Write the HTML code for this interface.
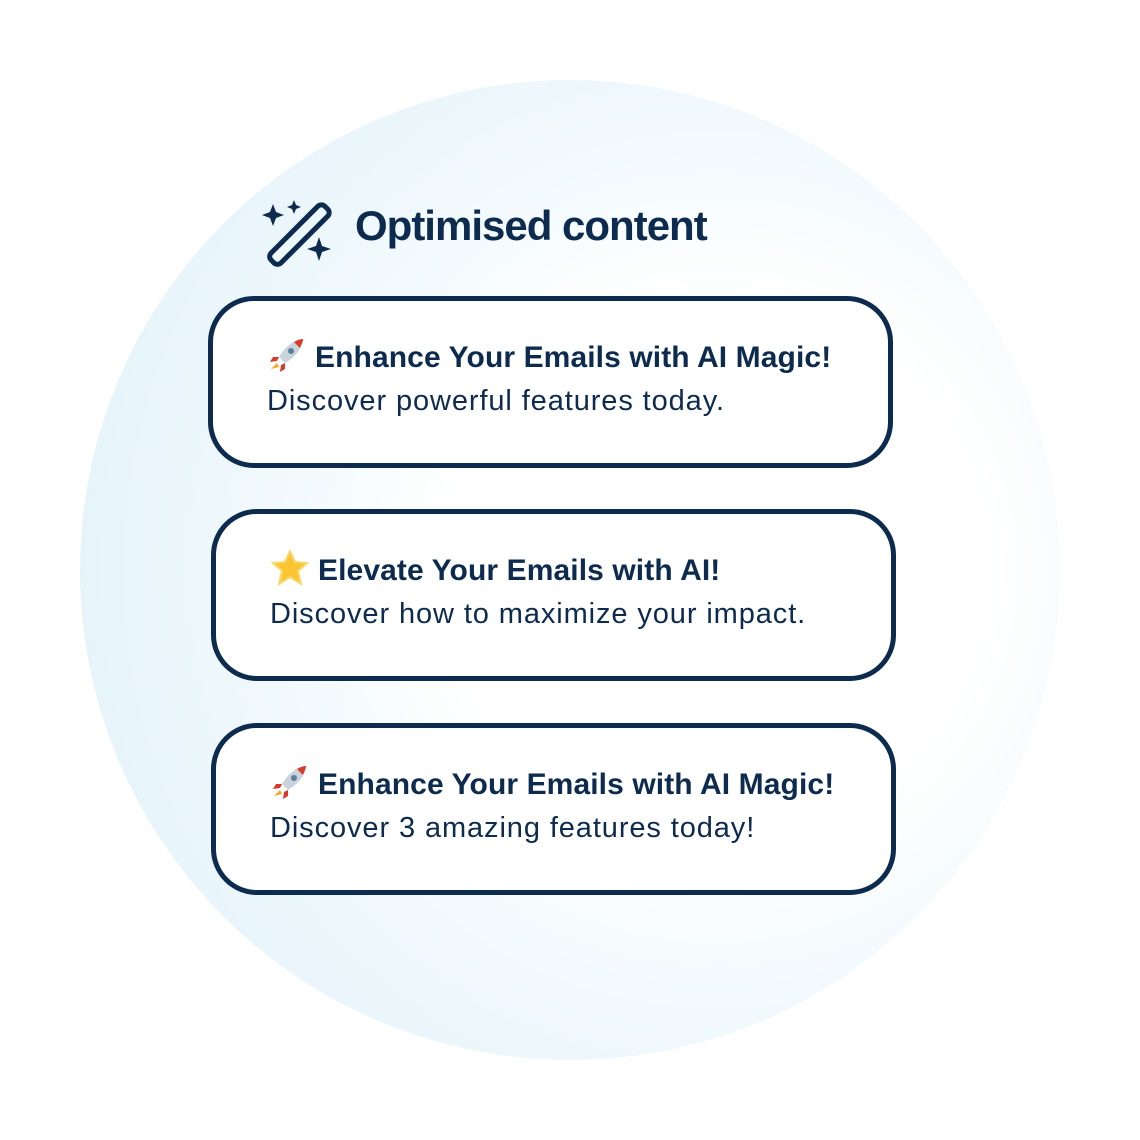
<!DOCTYPE html>
<html><head><meta charset="utf-8"><style>
html,body{margin:0;padding:0;background:#fff;}
body{width:1140px;height:1140px;position:relative;overflow:hidden;font-family:"Liberation Sans",sans-serif;color:#0d2b4e;}
.circle{position:absolute;left:80px;top:80px;width:980px;height:980px;border-radius:50%;
background:radial-gradient(circle at 65% 50%, #ffffff 0%, #ffffff 34%, #f3fafd 52%, #e6f4fa 80%, #e3f3f9 100%);}
.title{position:absolute;left:355px;top:202px;font-size:42px;font-weight:bold;letter-spacing:-1px;}
.card{position:absolute;width:675px;height:162px;border:5px solid #0d2b4e;border-radius:46px;background:#fff;}
.t{position:absolute;left:54px;top:36px;font-size:30px;font-weight:bold;letter-spacing:0.1px;white-space:nowrap;}
.s{position:absolute;left:54px;top:84px;font-size:29px;letter-spacing:0.9px;white-space:nowrap;}
.ic{display:inline-block;width:40px;height:36px;vertical-align:-6px;margin-right:8px;}
</style></head><body>
<div class="circle"></div>
<svg style="position:absolute;left:258px;top:198px" width="78" height="72" viewBox="0 0 78 72">
<g fill="#0d2b4e">
<path d="M15 6 L18 14 L26 17 L18 20 L15 28 L12 20 L4 17 L12 14Z"/>
<path d="M36 2 L38 7 L43 9 L38 11 L36 16 L34 11 L29 9 L34 7Z"/>
<path d="M61 39 L64 48 L73 51 L64 54 L61 63 L58 54 L49 51 L58 48Z"/>
</g>
<g fill="none" stroke="#0d2b4e" stroke-width="5" stroke-linejoin="round">
<rect x="25" y="0" width="14" height="76" rx="5" transform="rotate(45 40 38) translate(8 -2)"/>
</g>
</svg>
<div class="title">Optimised content</div>

<div class="card" style="left:208px;top:296px">
<div class="t"><svg class="ic" viewBox="0 0 40 36"><path d="M36 2 C26 3 18 10 12 20 L18 26 C28 20 35 12 36 2Z" fill="#c9d3dc"/><path d="M36 2 C32 2 29 4 27 5 L33 11 C34 8 36 5 36 2Z" fill="#d63a2a"/><circle cx="24" cy="14" r="3" fill="#5b7fa0"/><path d="M12 20 L6 20 L3 25 L10 24Z M18 26 L18 32 L13 35 L14 28Z" fill="#d63a2a"/><path d="M10 26 L4 32 L12 30Z" fill="#f5a623"/></svg>Enhance Your Emails with AI Magic!</div>
<div class="s">Discover powerful features today.</div>
</div>

<div class="card" style="left:211px;top:509px">
<div class="t"><svg class="ic" viewBox="0 0 40 36"><path d="M20 1 L25 12 L37 13 L28 21 L31 34 L20 27 L9 34 L12 21 L3 13 L15 12Z" fill="#fbc531" stroke="#f6d96b" stroke-width="2"/></svg>Elevate Your Emails with AI!</div>
<div class="s">Discover how to maximize your impact.</div>
</div>

<div class="card" style="left:211px;top:723px">
<div class="t"><svg class="ic" viewBox="0 0 40 36"><path d="M36 2 C26 3 18 10 12 20 L18 26 C28 20 35 12 36 2Z" fill="#c9d3dc"/><path d="M36 2 C32 2 29 4 27 5 L33 11 C34 8 36 5 36 2Z" fill="#d63a2a"/><circle cx="24" cy="14" r="3" fill="#5b7fa0"/><path d="M12 20 L6 20 L3 25 L10 24Z M18 26 L18 32 L13 35 L14 28Z" fill="#d63a2a"/><path d="M10 26 L4 32 L12 30Z" fill="#f5a623"/></svg>Enhance Your Emails with AI Magic!</div>
<div class="s">Discover 3 amazing features today!</div>
</div>
</body></html>
